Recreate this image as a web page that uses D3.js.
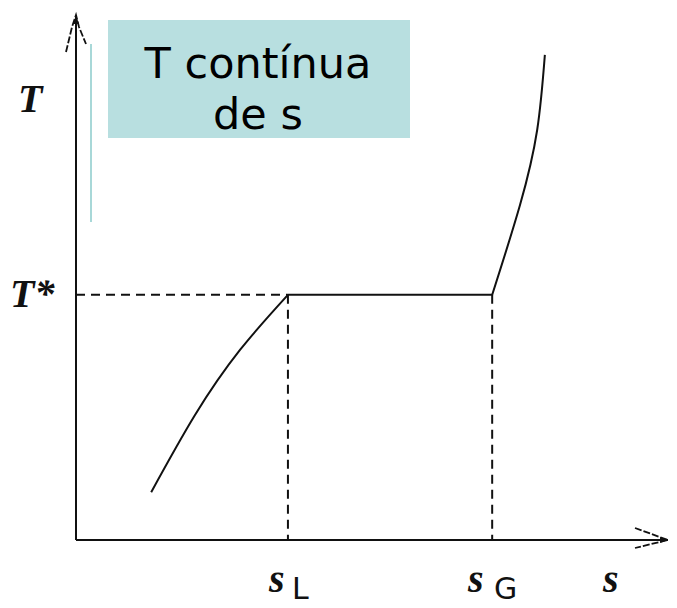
<!DOCTYPE html>
<html><head><meta charset="utf-8">
<script src="https://cdn.jsdelivr.net/npm/d3@7"></script>
<style>html,body{margin:0;padding:0;background:#fff;}</style>
</head><body>
<svg id="c" width="677" height="608"></svg>
<script>
// data (arbitrary units: s on x, T on y)
const sL = 35.8, sG = 70.3, Tstar = 46.7;
const liquidS = [12.7, 20.1, 27.7, 35.8];
const liquidT = [9.1, 23.8, 36.2, 46.7];
const gasS = [70.3, 75.0, 77.9, 79.2];
const gasT = [46.7, 63.8, 78.1, 92.4];
const boxLines = ["T contínua", "de s"];

const svg = d3.select("#c");
const x = d3.scaleLinear().domain([0, 100]).range([76, 668]);
const y = d3.scaleLinear().domain([0, 100]).range([540, 15]);
const ink = "#111";

// text box
svg.append("rect").attr("x", 108).attr("y", 20).attr("width", 302).attr("height", 118).attr("fill", "#b8dfe0");
svg.append("line").attr("x1", 91).attr("x2", 91).attr("y1", 44).attr("y2", 222).attr("stroke", "#a8d8d8").attr("stroke-width", 2);
svg.selectAll("text.box").data(boxLines).enter().append("text")
  .attr("x", 258).attr("y", (d, i) => 78 + i * 51)
  .attr("text-anchor", "middle").attr("font-family", "DejaVu Sans, sans-serif")
  .attr("font-size", 43).attr("fill", "#000").text(d => d);

// axes
svg.append("line").attr("x1", x(0)).attr("x2", x(0)).attr("y1", y(0)).attr("y2", y(100)).attr("stroke", ink).attr("stroke-width", 2);
svg.append("line").attr("x1", x(0)).attr("x2", x(100)).attr("y1", y(0)).attr("y2", y(0)).attr("stroke", ink).attr("stroke-width", 2);
// arrowheads
svg.append("path").attr("d", `M${x(0)-10},${y(100)+37} L${x(0)-4},${y(100)+12} L${x(0)},${y(100)} L${x(0)+3},${y(100)+12} L${x(0)+10},${y(100)+29}`)
  .attr("fill", "none").attr("stroke", ink).attr("stroke-width", 1.8).attr("stroke-dasharray", "7,2");
svg.append("path").attr("d", `M${x(100)-33},${y(0)-12} L${x(100)},${y(0)} L${x(100)-33},${y(0)+8}`)
  .attr("fill", "none").attr("stroke", ink).attr("stroke-width", 1.8).attr("stroke-dasharray", "7,2");
svg.append("path").attr("d", `M${x(100)-8},${y(0)-3} L${x(100)},${y(0)} L${x(100)-8},${y(0)+3}Z`).attr("fill", ink);
svg.append("path").attr("d", `M${x(0)-3},${y(100)+9} L${x(0)},${y(100)} L${x(0)+3},${y(100)+9}Z`).attr("fill", ink);

// dashed guides
const dash = "9,6";
svg.append("line").attr("x1", x(0)).attr("x2", x(sL)).attr("y1", y(Tstar)).attr("y2", y(Tstar)).attr("stroke", ink).attr("stroke-width", 2).attr("stroke-dasharray", dash);
svg.append("line").attr("x1", x(sL)).attr("x2", x(sL)).attr("y1", y(Tstar)).attr("y2", y(0)).attr("stroke", ink).attr("stroke-width", 2).attr("stroke-dasharray", dash);
svg.append("line").attr("x1", x(sG)).attr("x2", x(sG)).attr("y1", y(Tstar)).attr("y2", y(0)).attr("stroke", ink).attr("stroke-width", 2).attr("stroke-dasharray", dash);

// curves
const line = d3.line().x(d => x(d[0])).y(d => y(d[1])).curve(d3.curveNatural);
svg.append("path").attr("d", line(liquidS.map((s, i) => [s, liquidT[i]]))).attr("fill", "none").attr("stroke", ink).attr("stroke-width", 2);
svg.append("path").attr("d", line(gasS.map((s, i) => [s, gasT[i]]))).attr("fill", "none").attr("stroke", ink).attr("stroke-width", 2);
svg.append("line").attr("x1", x(sL)).attr("x2", x(sG)).attr("y1", y(Tstar)).attr("y2", y(Tstar)).attr("stroke", ink).attr("stroke-width", 2);

// labels
const serif = "Liberation Serif, Times New Roman, serif";
function ital(t, px, py) {
  return svg.append("text").attr("x", px).attr("y", py).attr("font-family", serif).attr("font-style", "italic")
    .attr("font-weight", "bold").attr("font-size", 40).attr("fill", ink).text(t);
}
ital("T", 18, 112);
ital("T*", 10, 307);
ital("s", 269, 592);
ital("s", 468, 592);
ital("s", 603, 592);
svg.append("text").attr("x", 292).attr("y", 599).attr("font-family", "DejaVu Sans, sans-serif").attr("font-size", 30).attr("fill", ink).text("L");
svg.append("text").attr("x", 494).attr("y", 599).attr("font-family", "DejaVu Sans, sans-serif").attr("font-size", 30).attr("fill", ink).text("G");
</script>
</body></html>
